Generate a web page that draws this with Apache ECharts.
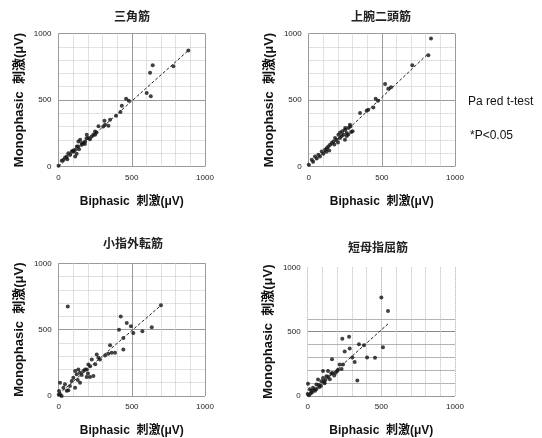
<!DOCTYPE html>
<html>
<head>
<meta charset="utf-8">
<script src="https://cdn.jsdelivr.net/npm/echarts@6/dist/echarts.min.js"></script>
<style>
  html, body { margin: 0; padding: 0; background: #fff; }
  #chart { width: 542px; height: 438px; }
</style>
</head>
<body>
<div id="chart"></div>
<script>
// panel titles (muscles)
const muscles = ['三角筋', '上腕二頭筋', '小指外転筋', '短母指屈筋'];
const xName = 'Biphasic  刺激(μV)';
const yName = 'Monophasic  刺激(μV)';
const tickLabels = [0, 500, 1000];

// [biphasic, monophasic] per subject
const deltoid = [
  [0, 5], [22, 43], [34, 50], [45, 68], [56, 75], [67, 100], [80, 88], [90, 113], [102, 113], [114, 126],
  [114, 75], [125, 151], [124, 95], [135, 150], [136, 188], [148, 201], [159, 163], [170, 176], [181, 188], [192, 213],
  [193, 239], [205, 214], [215, 205], [227, 226], [238, 238], [250, 239], [249, 263], [273, 302], [306, 301], [314, 344],
  [318, 314], [341, 306], [352, 351], [393, 382], [423, 410], [432, 457], [461, 510], [480, 495], [602, 553], [630, 528],
  [625, 704], [643, 761], [784, 754], [886, 872], [100, 120], [160, 175], [180, 170], [260, 255], [140, 130], [60, 55]
];
const biceps = [
  [0, 13], [21, 50], [30, 35], [43, 75], [66, 88], [77, 75], [89, 113], [100, 95], [112, 126], [123, 138],
  [134, 151], [146, 163], [157, 176], [169, 188], [180, 214], [191, 201], [203, 239], [214, 214], [225, 230], [237, 239],
  [248, 201], [248, 276], [260, 251], [271, 289], [282, 314], [290, 260], [300, 265], [270, 240], [351, 402], [396, 420],
  [407, 426], [442, 444], [458, 510], [474, 495], [522, 621], [544, 585], [563, 595], [708, 761], [818, 837], [836, 962],
  [140, 120], [175, 165], [200, 180], [215, 255], [230, 265], [260, 230], [120, 110], [55, 60], [250, 290], [285, 300]
];
const adm = [
  [0, 10], [9, 13], [20, 0], [2, 38], [9, 100], [32, 63], [43, 88], [66, 43], [77, 75], [89, 113],
  [100, 138], [112, 63], [112, 188], [123, 163], [134, 200], [146, 175], [146, 100], [157, 158], [169, 188], [191, 143],
  [192, 200], [203, 238], [214, 143], [215, 225], [226, 275], [237, 150], [260, 313], [271, 288], [282, 275], [317, 305],
  [339, 318], [351, 383], [362, 325], [385, 325], [412, 500], [424, 600], [442, 438], [442, 350], [465, 550], [494, 525],
  [510, 475], [572, 488], [636, 518], [699, 683], [62, 675], [180, 200], [250, 240], [130, 120], [55, 40], [200, 170]
];
const fpb = [
  [0, 15], [2, 95], [14, 53], [36, 65], [50, 40], [59, 90], [70, 128], [80, 70], [93, 115], [104, 140],
  [104, 195], [115, 100], [127, 153], [138, 195], [150, 130], [165, 285], [167, 178], [180, 160], [206, 203], [217, 245],
  [230, 210], [235, 445], [240, 245], [251, 345], [281, 460], [285, 370], [303, 300], [319, 265], [337, 120], [348, 403],
  [382, 395], [403, 300], [457, 298], [500, 765], [511, 378], [545, 660], [20, 20], [30, 30], [60, 55], [75, 85],
  [90, 80], [120, 125], [140, 150], [160, 175], [200, 195], [190, 180], [110, 110], [45, 50], [8, 5], [25, 40]
];
// regression line end points
const fits = [
  [[0, 0], [886, 872]],
  [[0, 0], [818, 850]],
  [[0, 15], [699, 683]],
  [[0, 0], [545, 560]]
];
const panels = [deltoid, biceps, adm, fpb];

const grids = [
  { left: 58.5, top: 33.5, width: 146.5, height: 133 },
  { left: 308.7, top: 33.5, width: 146.3, height: 133 },
  { left: 58.7, top: 263.3, width: 146.3, height: 133.4 },
  { left: 307.7, top: 267.3, width: 147.3, height: 133.4 }
];
const titlePos = [[132, 16], [381, 16], [133, 243], [378, 247]];

const font = "'Liberation Sans', 'Noto Sans CJK JP', sans-serif";
const labelStyle = { fontSize: 8, color: '#222', fontFamily: font };
const showTick = v => (tickLabels.indexOf(v) >= 0 ? String(v) : '');

function baseAxis (i, name, gap, size) {
  return {
    type: 'value',
    gridIndex: i,
    min: 0,
    max: 1000,
    name: name,
    nameLocation: 'middle',
    nameGap: gap,
    nameTextStyle: { fontWeight: 'bold', fontSize: size, color: '#111', fontFamily: font },
    axisLine: { show: false },
    axisTick: { show: false },
    axisLabel: { ...labelStyle, margin: 7, formatter: showTick }
  };
}

// panels 1-3: solid lines at 500s, dotted every 100
function majorMinor (i, name, gap, size) {
  return {
    ...baseAxis(i, name, gap, size),
    interval: 500,
    splitLine: { lineStyle: { color: '#9a9a9a', width: 1 } },
    minorTick: { show: false, splitNumber: 5 },
    minorSplitLine: { show: true, lineStyle: { color: '#c4c4c4', type: 'dotted' } }
  };
}

const xAxes = [0, 1, 2].map(i => majorMinor(i, xName, 29, 12));
const yAxes = [0, 1, 2].map(i => majorMinor(i, yName, 33, 13));

// panel 4 has its own grid style
xAxes.push({
  ...baseAxis(3, xName, 29, 12),
  interval: 100,
  splitLine: {
    lineStyle: {
      type: 'dotted',
      color: ['#aaa', '#bbb', '#bbb', '#bbb', '#bbb', '#999', '#bbb', '#bbb', '#bbb', '#bbb', '#aaa']
    }
  }
});
yAxes.push({
  ...baseAxis(3, yName, 33, 13),
  interval: 100,
  splitLine: {
    lineStyle: {
      color: ['#999', '#b4b4b4', '#b4b4b4', '#b4b4b4', '#b4b4b4', '#8a8a8a', '#b4b4b4',
        'rgba(0,0,0,0)', 'rgba(0,0,0,0)', 'rgba(0,0,0,0)', 'rgba(0,0,0,0)']
    }
  }
});

const series = [];
panels.forEach((data, i) => {
  series.push({
    type: 'scatter',
    xAxisIndex: i,
    yAxisIndex: i,
    data: data,
    symbol: 'circle',
    symbolSize: 4,
    itemStyle: { color: '#111' },
    silent: true
  });
  series.push({
    type: 'line',
    xAxisIndex: i,
    yAxisIndex: i,
    data: fits[i],
    symbol: 'none',
    lineStyle: { color: '#222', width: 1, type: [3, 2] },
    silent: true
  });
});

const texts = muscles.map((m, i) => ({
  type: 'text',
  x: titlePos[i][0],
  y: titlePos[i][1],
  style: {
    text: m,
    fill: '#222',
    font: "bold 12px 'Noto Sans CJK JP'",
    textAlign: 'center',
    textVerticalAlign: 'middle'
  }
}));
texts.push({
  type: 'text', x: 468, y: 102,
  style: { text: 'Pa red t-test', fill: '#111', font: "12px 'Liberation Sans'", textVerticalAlign: 'middle' }
});
texts.push({
  type: 'text', x: 470, y: 136,
  style: { text: '*P<0.05', fill: '#111', font: "12px 'Liberation Sans'", textVerticalAlign: 'middle' }
});

const chart = echarts.init(document.getElementById('chart'));
chart.setOption({
  animation: false,
  backgroundColor: '#fff',
  grid: grids,
  xAxis: xAxes,
  yAxis: yAxes,
  series: series,
  graphic: texts
});
</script>
</body>
</html>
